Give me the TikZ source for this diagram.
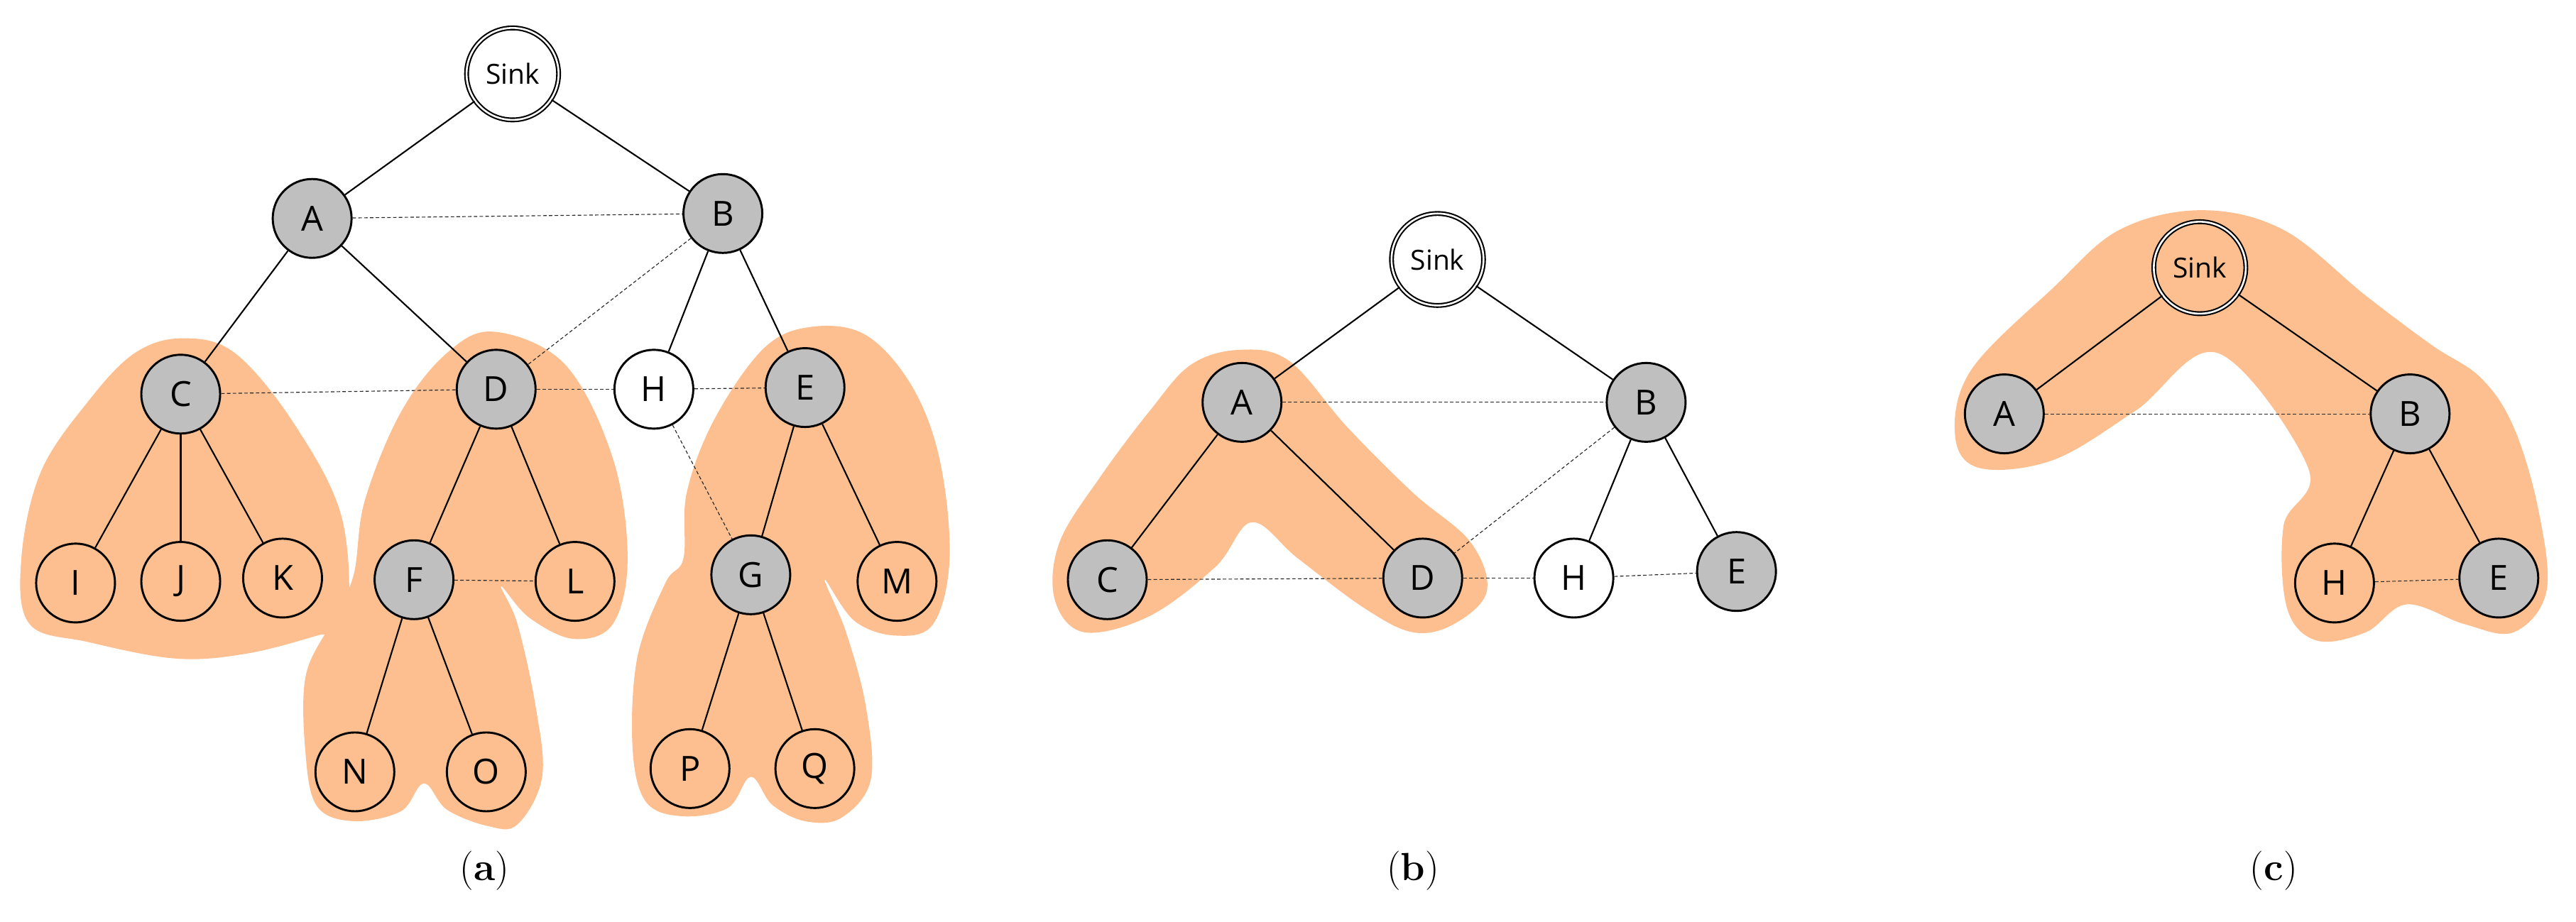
\documentclass[tikz,border=0pt]{standalone}
\usepackage{fontspec}
\newfontfamily\labfont{Open Sans}
\begin{document}
\begin{tikzpicture}[x=0.05cm,y=-0.05cm,
  nd/.style={circle,draw,line width=1.8pt,minimum size=2.4cm,inner sep=0pt,font=\labfont\fontsize{30}{36}\selectfont},
  gn/.style={nd,fill=gray!50},
  wn/.style={nd,fill=white},
  on/.style={nd,fill=none},
  sink/.style={circle,draw,fill=white,line width=1.3pt,double,double distance=1.6pt,minimum size=2.8cm,inner sep=0pt,font=\labfont\fontsize{24}{28}\selectfont},
  te/.style={line width=1.3pt},
  de/.style={line width=0.7pt,dash pattern=on 3pt off 2pt,gray!30!black},
  captxt/.style={font=\fontsize{34}{40}\selectfont}]
\definecolor{blobc}{RGB}{253,191,143}
\useasboundingbox (0,0) rectangle (1568,561);
% blobs
\fill[blobc] plot[smooth cycle,tension=0.6] coordinates {(111,206)(143,215)(179,258)(208,315)(211,380)(193,387)(150,398)(107,401)(54,391)(18,380)(13,340)(25,287)(54,244)(82,215)};
\fill[blobc] plot[smooth cycle,tension=0.6] coordinates {(301,202)(344,222)(373,279)(382,340)(373,380)(349,389)(322,376)(305,357)(315,380)(326,430)(330,473)(315,502)(297,503)(272,493)(258,477)(244,494)(215,500)(193,491)(186,459)(186,412)(201,380)(215,351)(222,305)(244,251)(272,215)};
\fill[blobc] plot[smooth cycle,tension=0.6] coordinates {(494,199)(527,204)(555,235)(572,280)(578,340)(568,380)(545,387)(520,378)(502,353)(515,385)(527,430)(530,475)(512,498)(490,500)(470,490)(457,473)(443,492)(415,497)(393,488)(385,455)(388,400)(405,355)(416,340)(418,300)(435,255)(465,212)};
\fill[blobc] plot[smooth cycle,tension=0.6] coordinates {(755,213)(785,220)(820,260)(860,300)(895,330)(905,360)(885,380)(860,385)(830,370)(790,340)(762,318)(740,345)(700,375)(660,385)(642,365)(645,330)(670,290)(700,250)(725,222)};
\fill[blobc] plot[smooth cycle,tension=0.6] coordinates {(1340,128)(1390,140)(1440,180)(1480,210)(1510,230)(1530,260)(1545,310)(1550,360)(1530,385)(1500,380)(1465,368)(1440,385)(1410,390)(1392,370)(1390,320)(1405,285)(1350,215)(1300,250)(1250,280)(1205,285)(1190,265)(1200,225)(1250,175)(1290,140)};
% panel a
\node[sink] (aS) at (312,45) {Sink};
\node[gn] (aA) at (190,133) {A};
\node[gn] (aB) at (440,130) {B};
\node[gn] (aC) at (110,240) {C};
\node[gn] (aD) at (302,237) {D};
\node[wn] (aH) at (398,237) {H};
\node[gn] (aE) at (490,236) {E};
\node[on] (aI) at (46,355) {I};
\node[on] (aJ) at (110,354) {J};
\node[on] (aK) at (172,352) {K};
\node[gn] (aF) at (252,353) {F};
\node[on] (aL) at (350,354) {L};
\node[gn] (aG) at (457,350) {G};
\node[on] (aM) at (546,354) {M};
\node[on] (aN) at (216,470) {N};
\node[on] (aO) at (296,470) {O};
\node[on] (aP) at (420,468) {P};
\node[on] (aQ) at (496,468) {Q};
\foreach \u/\v in {S/A,S/B,A/C,A/D,B/H,B/E,C/I,C/J,C/K,D/F,D/L,E/G,E/M,F/N,F/O,G/P,G/Q}
  \draw[te] (a\u) -- (a\v);
\foreach \u/\v in {A/B,B/D,C/D,D/H,H/E,H/G,F/L}
  \draw[de] (a\u) -- (a\v);
\node[captxt] (la) at (295,530) {(\textbf{a})};
% panel b
\node[sink] (bS) at (875,158) {Sink};
\node[gn] (bA) at (756,245) {A};
\node[gn] (bB) at (1002,245) {B};
\node[gn] (bC) at (674,353) {C};
\node[gn] (bD) at (866,352) {D};
\node[wn] (bH) at (958,352) {H};
\node[gn] (bE) at (1057,348) {E};
\foreach \u/\v in {S/A,S/B,A/C,A/D,B/H,B/E}
  \draw[te] (b\u) -- (b\v);
\foreach \u/\v in {A/B,B/D,C/D,D/H,H/E}
  \draw[de] (b\u) -- (b\v);
\node[captxt] (lb) at (860,530) {(\textbf{b})};
% panel c
\node[sink,fill=none] (cS) at (1339,163) {Sink};
\node[gn] (cA) at (1220,252) {A};
\node[gn] (cB) at (1467,252) {B};
\node[on] (cH) at (1421,355) {H};
\node[gn] (cE) at (1521,352) {E};
\foreach \u/\v in {S/A,S/B,B/H,B/E}
  \draw[te] (c\u) -- (c\v);
\foreach \u/\v in {A/B,H/E}
  \draw[de] (c\u) -- (c\v);
\node[captxt] (lc) at (1384,530) {(\textbf{c})};
\end{tikzpicture}
\end{document}
